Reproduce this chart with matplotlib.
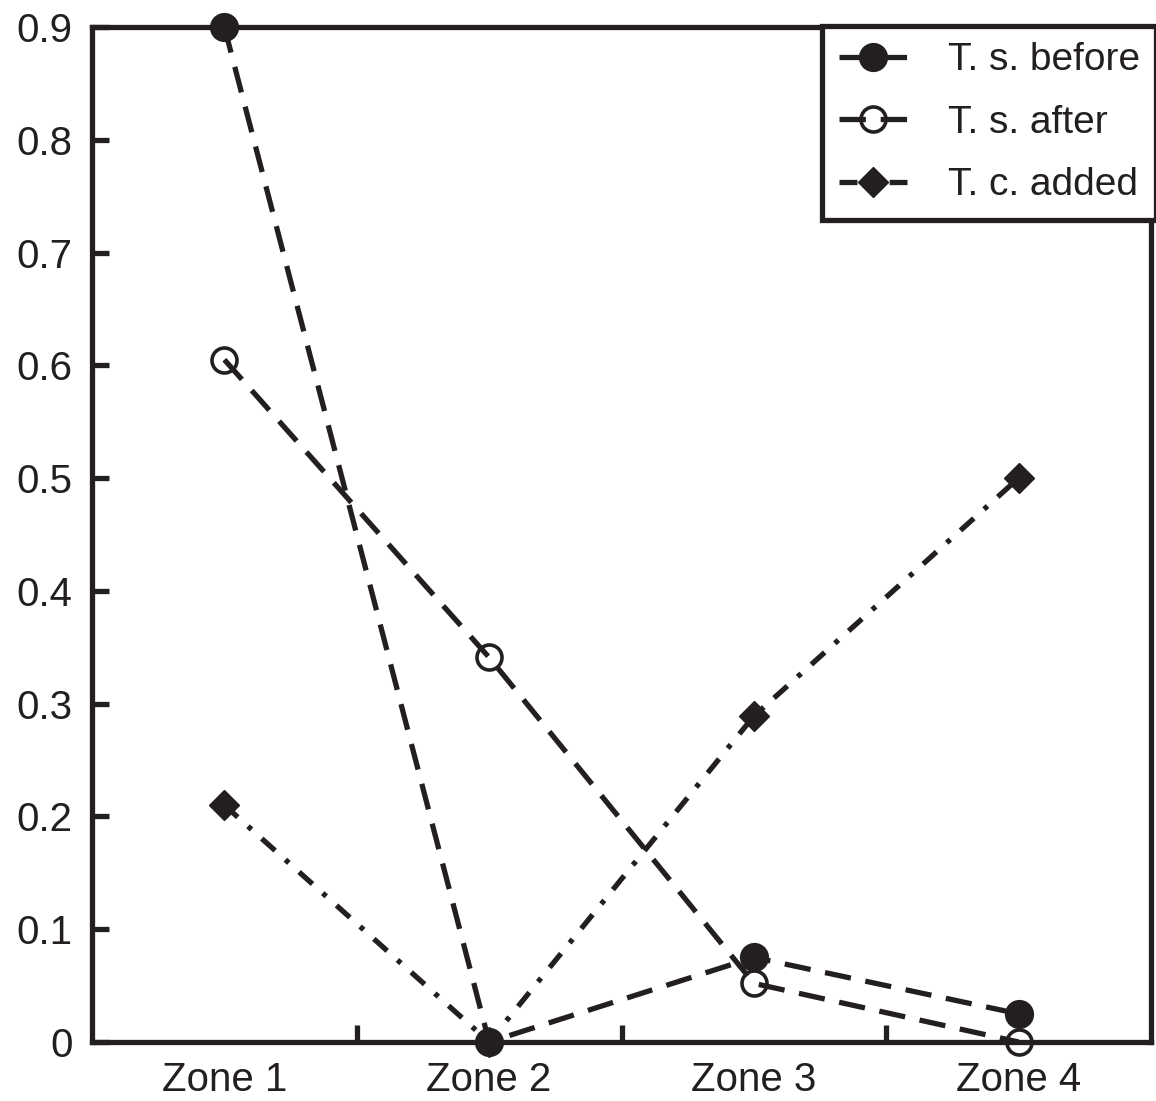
# Zone comparison line chart
import matplotlib
matplotlib.use('Agg')
import matplotlib.pyplot as plt

plt.rcParams['font.family'] = ['Liberation Sans', 'DejaVu Sans']

zones = ['Zone 1', 'Zone 2', 'Zone 3', 'Zone 4']
ts_before = [0.9, 0.0, 0.075, 0.025]
ts_after = [0.605, 0.341, 0.052, 0.0]
tc_added = [0.21, 0.0, 0.289, 0.5]
yticks = [0, 0.1, 0.2, 0.3, 0.4, 0.5, 0.6, 0.7, 0.8, 0.9]

ink = '#231f20'
lw = 3.8
x = list(range(1, len(zones) + 1))

fig = plt.figure(figsize=(11.56, 11.01), dpi=100)
ax = fig.add_axes([92 / 1156, 59 / 1101, (1151 - 92) / 1156, (1042 - 27) / 1101])

ax.plot(x, ts_before, color=ink, lw=lw, linestyle=(0, (5.0, 2.8)),
        marker='o', ms=19, mfc=ink, mec=ink, mew=2, clip_on=False,
        label='T. s. before', zorder=3)
ax.plot(x, ts_after, color=ink, lw=lw, linestyle=(0, (5.0, 2.8)),
        marker='o', ms=18, mfc='none', mec=ink, mew=2.6, clip_on=False,
        label='T. s. after', zorder=3)
ax.plot(x, tc_added, color=ink, lw=lw, linestyle=(0, (3.4, 2.6, 0.9, 2.6)),
        marker='D', ms=15.5, mfc=ink, mec=ink, mew=1, clip_on=False,
        label='T. c. added', zorder=3)

ax.set_xlim(0.5, 4.5)
ax.set_ylim(0, 0.9)
ax.set_xticks(x)
ax.set_xticklabels(zones)
ax.set_xticks([1.5, 2.5, 3.5], minor=True)
ax.set_yticks(yticks)
ax.set_yticklabels(['0'] + ['%.1f' % v for v in yticks[1:]])

ax.tick_params(axis='x', which='major', length=0, pad=14, labelsize=29, colors=ink)
ax.tick_params(axis='x', which='minor', direction='in', length=12, width=lw, color=ink)
ax.tick_params(axis='y', direction='in', length=12, width=lw, pad=14,
               labelsize=29, colors=ink)
for s in ax.spines.values():
    s.set_linewidth(lw)
    s.set_color(ink)

leg = ax.legend(loc='upper right', bbox_to_anchor=(1.0, 1 - 26 / 1101),
                bbox_transform=fig.transFigure, borderaxespad=0,
                numpoints=1, handlelength=1.75, handletextpad=1.05,
                labelspacing=0.68, borderpad=0.42, fontsize=28,
                fancybox=False, framealpha=1, edgecolor=ink)
leg.get_frame().set_linewidth(lw)
for t in leg.get_texts():
    t.set_color(ink)

fig.savefig('out.png', dpi=100)
